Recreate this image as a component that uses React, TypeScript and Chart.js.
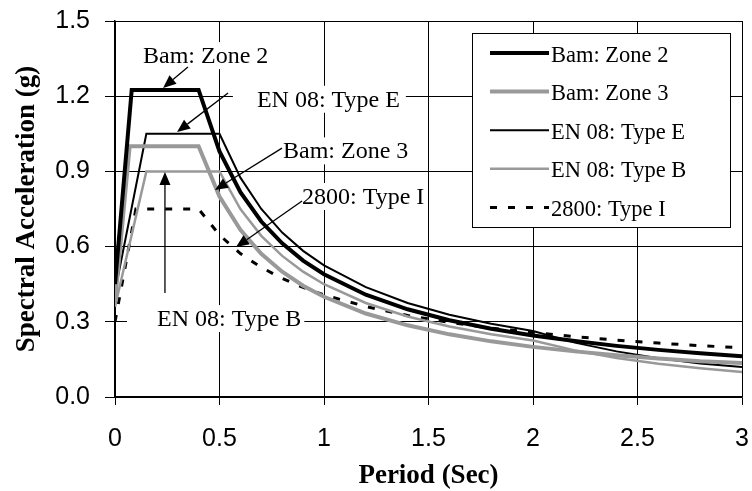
import React, { useEffect, useRef } from "react";
import { Chart, registerables } from "chart.js";

Chart.register(...registerables);

// ---- Data ----
const seriesNames = ["Bam: Zone 2", "Bam: Zone 3", "EN 08: Type E", "EN 08: Type B", "2800: Type I"];

const bamZone2Periods = [0, 0.08, 0.4, 0.5, 0.6, 0.7, 0.8, 0.9, 1.0, 1.2, 1.4, 1.6, 1.8, 2.0, 2.2, 2.4, 2.6, 2.8, 3.0];
const bamZone2Values = [0.45, 1.225, 1.225, 0.98, 0.817, 0.7, 0.613, 0.544, 0.49, 0.408, 0.35, 0.306, 0.272, 0.245, 0.223, 0.204, 0.188, 0.175, 0.163];

const bamZone3Periods = [0, 0.07, 0.4, 0.5, 0.6, 0.7, 0.8, 0.9, 1.0, 1.2, 1.4, 1.6, 1.8, 2.0, 2.2, 2.4, 2.6, 2.8, 3.0];
const bamZone3Values = [0.38, 1.0, 1.0, 0.8, 0.667, 0.571, 0.5, 0.444, 0.4, 0.333, 0.286, 0.25, 0.222, 0.2, 0.182, 0.167, 0.154, 0.143, 0.136];

const enPeriods = [0, 0.15, 0.5, 0.6, 0.7, 0.8, 0.9, 1.0, 1.2, 1.4, 1.6, 1.8, 2.0, 2.2, 2.4, 2.6, 2.8, 3.0];
const enTypeEValues = [0.42, 1.05, 1.05, 0.875, 0.75, 0.656, 0.583, 0.525, 0.438, 0.375, 0.328, 0.292, 0.263, 0.217, 0.182, 0.155, 0.134, 0.12];
const enTypeBValues = [0.36, 0.9, 0.9, 0.75, 0.643, 0.563, 0.5, 0.45, 0.375, 0.321, 0.281, 0.25, 0.225, 0.186, 0.156, 0.133, 0.115, 0.1];

const code2800Periods = [0, 0.1, 0.4, 0.5, 0.6, 0.7, 0.8, 0.9, 1.0, 1.2, 1.4, 1.6, 1.8, 2.0, 2.2, 2.4, 2.6, 2.8, 3.0];
const code2800Values = [0.3, 0.75, 0.75, 0.646, 0.572, 0.517, 0.473, 0.437, 0.407, 0.361, 0.325, 0.298, 0.275, 0.257, 0.241, 0.227, 0.215, 0.205, 0.196];

const xTickValues = [0, 0.5, 1, 1.5, 2, 2.5, 3];
const yTickValues = [0, 0.3, 0.6, 0.9, 1.2, 1.5];

// Callouts: text left / baseline and arrow (tail -> tip) in data units
const callouts = [
  { text: "Bam: Zone 2", x: 0.134, y: 1.332, padL: 3, padR: 3, from: [0.349, 1.316], to: [0.23, 1.233] },
  { text: "EN 08: Type E", x: 0.679, y: 1.158, padL: 24, padR: 6, from: [0.541, 1.213], to: [0.297, 1.057] },
  { text: "Bam: Zone 3", x: 0.804, y: 0.952, padL: 3, padR: 3, from: [0.799, 0.993], to: [0.478, 0.826] },
  { text: "2800: Type I", x: 0.895, y: 0.77, padL: 3, padR: 3, from: [0.895, 0.782], to: [0.579, 0.598] },
  { text: "EN 08: Type B", x: 0.201, y: 0.283, padL: 30, padR: 3, from: [0.239, 0.415], to: [0.239, 0.898] },
];

const SERIF = "'Liberation Serif', 'Times New Roman', serif";
const SANS = "'Liberation Sans', Arial, sans-serif";

function toPts(xs: number[], ys: number[]) {
  return xs.map((x, i) => ({ x, y: ys[i] }));
}

const calloutPlugin = {
  id: "callouts",
  afterDatasetsDraw(chart: any) {
    const { ctx, scales } = chart;
    const xs = scales.x;
    const ys = scales.y;
    ctx.save();
    ctx.font = `24px ${SERIF}`;
    ctx.textBaseline = "alphabetic";
    ctx.textAlign = "left";
    for (const c of callouts) {
      const tx = xs.getPixelForValue(c.x);
      const ty = ys.getPixelForValue(c.y);
      const w = ctx.measureText(c.text).width;
      ctx.fillStyle = "#fff";
      ctx.fillRect(tx - c.padL, ty - 21, w + c.padL + c.padR, 27);
      ctx.fillStyle = "#000";
      ctx.fillText(c.text, tx, ty);
      const x1 = xs.getPixelForValue(c.from[0]);
      const y1 = ys.getPixelForValue(c.from[1]);
      const x2 = xs.getPixelForValue(c.to[0]);
      const y2 = ys.getPixelForValue(c.to[1]);
      const ang = Math.atan2(y2 - y1, x2 - x1);
      const hl = 13;
      const hw = 5.5;
      const bx = x2 - hl * Math.cos(ang);
      const by = y2 - hl * Math.sin(ang);
      ctx.strokeStyle = "#000";
      ctx.lineWidth = 1.3;
      ctx.beginPath();
      ctx.moveTo(x1, y1);
      ctx.lineTo(bx, by);
      ctx.stroke();
      ctx.beginPath();
      ctx.moveTo(x2, y2);
      ctx.lineTo(bx + hw * Math.sin(ang), by - hw * Math.cos(ang));
      ctx.lineTo(bx - hw * Math.sin(ang), by + hw * Math.cos(ang));
      ctx.closePath();
      ctx.fill();
    }
    ctx.restore();
  },
};

const legendPlugin = {
  id: "boxLegend",
  afterDraw(chart: any) {
    const { ctx, chartArea } = chart;
    const left = chartArea.left + 357;
    const top = chartArea.top + 12;
    const w = 258;
    const h = 194;
    ctx.save();
    ctx.fillStyle = "#fff";
    ctx.fillRect(left, top, w, h);
    ctx.strokeStyle = "#000";
    ctx.lineWidth = 1;
    ctx.strokeRect(left + 0.5, top + 0.5, w, h);
    ctx.font = `22.5px ${SERIF}`;
    ctx.textBaseline = "alphabetic";
    ctx.textAlign = "left";
    chart.data.datasets.forEach((ds: any, i: number) => {
      const y = top + 20 + i * 38.6;
      ctx.strokeStyle = ds.borderColor;
      ctx.lineWidth = ds.borderWidth;
      ctx.setLineDash(ds.borderDash || []);
      ctx.beginPath();
      ctx.moveTo(left + 18, y);
      ctx.lineTo(left + 77, y);
      ctx.stroke();
      ctx.setLineDash([]);
      ctx.fillStyle = "#000";
      ctx.fillText(ds.label, left + 79, y + 8.5);
    });
    ctx.restore();
  },
};

export default function App() {
  const canvasRef = useRef<HTMLCanvasElement | null>(null);

  useEffect(() => {
    const canvas = canvasRef.current;
    if (!canvas) return;
    const chart = new Chart(canvas, {
      type: "line",
      data: {
        datasets: [
          { label: seriesNames[0], data: toPts(bamZone2Periods, bamZone2Values), borderColor: "#000000", borderWidth: 4 },
          { label: seriesNames[1], data: toPts(bamZone3Periods, bamZone3Values), borderColor: "#999999", borderWidth: 4 },
          { label: seriesNames[2], data: toPts(enPeriods, enTypeEValues), borderColor: "#000000", borderWidth: 2 },
          { label: seriesNames[3], data: toPts(enPeriods, enTypeBValues), borderColor: "#999999", borderWidth: 2.5 },
          {
            label: seriesNames[4],
            data: toPts(code2800Periods, code2800Values),
            borderColor: "#000000",
            borderWidth: 3,
            borderDash: [7, 11],
          },
        ] as any,
      },
      options: {
        animation: false,
        responsive: false,
        devicePixelRatio: 1,
        layout: { padding: { top: 21, right: 10, left: 0, bottom: 0 } },
        elements: {
          point: { radius: 0 },
          line: { tension: 0, borderCapStyle: "butt", borderJoinStyle: "miter" },
        },
        plugins: {
          legend: { display: false },
          tooltip: { enabled: false },
        },
        scales: {
          x: {
            type: "linear",
            min: 0,
            max: 3,
            afterBuildTicks: (s: any) => {
              s.ticks = xTickValues.map((v) => ({ value: v }));
            },
            ticks: {
              color: "#000",
              font: { family: SANS, size: 25 },
              padding: 19,
              maxRotation: 0,
              callback: (v: any) => String(Number(v)),
            },
            grid: { color: "#000", lineWidth: 1, tickLength: 8 },
            border: { color: "#000", width: 1.5 },
            title: {
              display: true,
              text: "Period (Sec)",
              color: "#000",
              font: { family: SERIF, size: 27, weight: "bold", lineHeight: 1 },
              padding: { top: 0, bottom: 1 },
            },
            afterFit: (s: any) => {
              s.height = 94;
              s.paddingLeft = 0;
              s.paddingRight = 0;
            },
          },
          y: {
            type: "linear",
            min: 0,
            max: 1.5,
            afterBuildTicks: (s: any) => {
              s.ticks = yTickValues.map((v) => ({ value: v }));
            },
            ticks: {
              color: "#000",
              font: { family: SANS, size: 25 },
              padding: 15,
              callback: (v: any) => Number(v).toFixed(1),
            },
            grid: { color: "#000", lineWidth: 1, tickLength: 10 },
            border: { color: "#000", width: 1.5 },
            title: {
              display: true,
              text: "Spectral Acceleration (g)",
              color: "#000",
              font: { family: SERIF, size: 27, weight: "bold", lineHeight: 1 },
              padding: { top: 14, bottom: 0 },
            },
            afterFit: (s: any) => {
              s.width = 115;
              s.paddingTop = 0;
              s.paddingBottom = 0;
            },
          },
        },
      } as any,
      plugins: [calloutPlugin, legendPlugin],
    });
    return () => chart.destroy();
  }, []);

  return (
    <div style={{ position: "absolute", left: 0, top: 0, width: 752, height: 491, background: "#fff" }}>
      <canvas ref={canvasRef} width={752} height={491} style={{ width: 752, height: 491, display: "block" }} />
    </div>
  );
}
